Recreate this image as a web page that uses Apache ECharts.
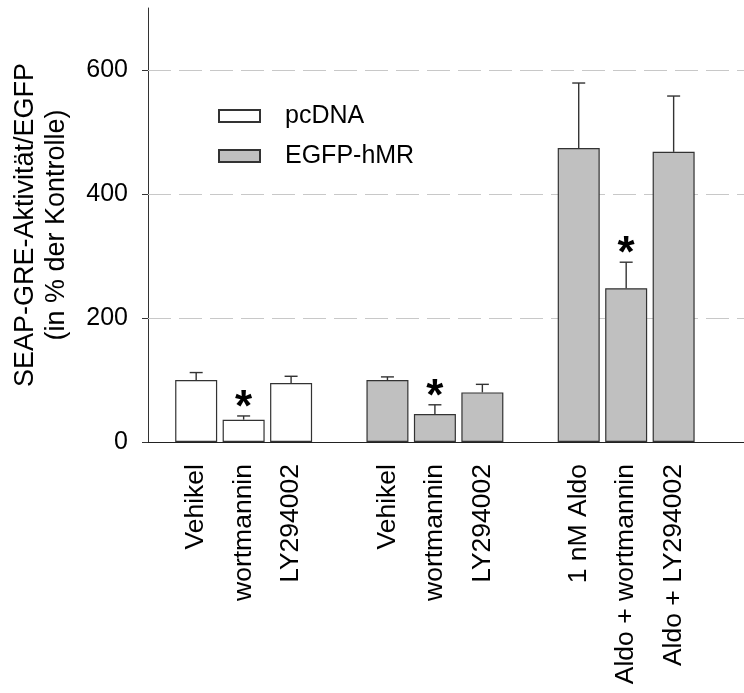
<!DOCTYPE html>
<html>
<head>
<meta charset="utf-8">
<script src="https://cdn.jsdelivr.net/npm/echarts@6/dist/echarts.min.js"></script>
<style>html,body{margin:0;padding:0;background:#fff;}#c{width:744px;height:693px;}</style>
</head>
<body>
<div id="c"></div>
<script>
// ---- data ----
const pcdnaLabels = ['Vehikel', 'wortmannin', 'LY294002'];
const pcdnaMeans  = [100, 36, 95];
const pcdnaSD     = [12, 6, 11];
const pcdnaSig    = [0, 1, 0];

const egfpLabels  = ['Vehikel', 'wortmannin', 'LY294002'];
const egfpMeans   = [100, 45, 80];
const egfpSD      = [5, 15, 13];
const egfpSig     = [0, 1, 0];

const aldoLabels  = ['1 nM Aldo', 'Aldo + wortmannin', 'Aldo + LY294002'];
const aldoMeans   = [474, 248, 468];
const aldoSD      = [105, 42, 90];
const aldoSig     = [0, 1, 0];

const legendNames = ['pcDNA', 'EGFP-hMR'];
const yTicks = [0, 200, 400, 600];
const yTitle = 'SEAP-GRE-Aktivität/EGFP\n(in % der Kontrolle)';

// ---- styles ----
const FONT = 'Liberation Sans, Arial, sans-serif';
const WHITE = '#ffffff', GRAY = '#c0c0c0', EDGE = '#333333';
const BAR_W = 42, BAR_GAP = 0.13;

const groups = [
  {labels: pcdnaLabels, means: pcdnaMeans, sd: pcdnaSD, sig: pcdnaSig, color: WHITE},
  {labels: egfpLabels, means: egfpMeans, sd: egfpSD, sig: egfpSig, color: GRAY},
  {labels: aldoLabels, means: aldoMeans, sd: aldoSD, sig: aldoSig, color: GRAY}
];

const series = [];
for (let p = 0; p < 3; p++) {
  series.push({
    type: 'bar',
    stack: 'pos' + p,
    barWidth: BAR_W,
    barGap: (BAR_GAP * 100) + '%',
    z: 2,
    data: groups.map((g, gi) => ({
      value: [gi + 1, g.means[p]],
      itemStyle: {color: g.color, borderColor: EDGE, borderWidth: 1.2}
    })),
    label: {
      show: true,
      position: 'bottom',
      distance: 22,
      rotate: 90,
      align: 'right',
      verticalAlign: 'middle',
      color: '#000',
      fontFamily: FONT,
      fontSize: 26.5,
      formatter: (pr) => groups[pr.dataIndex].labels[p]
    },
    silent: true
  });
}
// legend-only series
series.push({type: 'bar', name: legendNames[0], stack: 'pos0', data: [],
  itemStyle: {color: WHITE, borderColor: EDGE, borderWidth: 1.2}});
series.push({type: 'bar', name: legendNames[1], stack: 'pos1', data: [],
  itemStyle: {color: GRAY, borderColor: EDGE, borderWidth: 1.2}});

// error bars + significance stars
const errData = [];
groups.forEach((g, gi) => {
  for (let p = 0; p < 3; p++) errData.push([gi + 1, g.means[p] + g.sd[p], g.means[p], p, g.sig[p]]);
});
series.push({
  type: 'custom',
  z: 3,
  silent: true,
  encode: {x: 0, y: 1},
  data: errData,
  renderItem: function (params, api) {
    const x = api.value(0), top = api.value(1), mean = api.value(2), p = api.value(3), sig = api.value(4);
    const pitch = BAR_W * (1 + BAR_GAP);
    const b = api.coord([x, mean]);
    const t = api.coord([x, top]);
    const cx = b[0] + (p - 1) * pitch;
    const ls = {stroke: EDGE, lineWidth: 1.4};
    const children = [
      {type: 'line', shape: {x1: cx, y1: b[1], x2: cx, y2: t[1]}, style: ls},
      {type: 'line', shape: {x1: cx - 6.5, y1: t[1], x2: cx + 6.5, y2: t[1]}, style: ls}
    ];
    if (sig) {
      children.push({type: 'text', style: {text: '*', x: cx, y: t[1] - 7, align: 'center',
        verticalAlign: 'middle', font: 'bold 44px ' + FONT, fill: '#000'}});
    }
    return {type: 'group', children: children};
  },
  markLine: {
    silent: true,
    z: 1,
    symbol: 'none',
    label: {show: false},
    lineStyle: {type: [23, 8], color: '#c8c8c8', width: 1},
    data: yTicks.filter(v => v > 0).map(v => ({yAxis: v}))
  }
});

const chart = echarts.init(document.getElementById('c'), null, {renderer: 'canvas'});
chart.setOption({
  backgroundColor: '#fff',
  animation: false,
  grid: {left: 148, right: 0, top: 8, bottom: 251, containLabel: false},
  legend: {
    orient: 'vertical',
    left: 213,
    top: 98,
    padding: 5,
    icon: 'rect',
    itemWidth: 41,
    itemHeight: 12,
    itemGap: 14,
    data: legendNames,
    selectedMode: false,
    textStyle: {fontFamily: FONT, fontSize: 25, color: '#000', lineHeight: 26, padding: [0, 0, 0, 20]}
  },
  xAxis: {
    type: 'value',
    min: 0.5,
    max: 3.616,
    axisLine: {show: true, onZero: false, lineStyle: {color: '#222', width: 1}},
    axisTick: {show: false},
    axisLabel: {show: false},
    splitLine: {show: false}
  },
  yAxis: {
    type: 'value',
    min: 0,
    max: 700,
    interval: 100,
    name: yTitle,
    nameLocation: 'middle',
    nameGap: 76,
    nameTextStyle: {fontFamily: FONT, fontSize: 27, color: '#000', lineHeight: 31, align: 'center'},
    axisLine: {show: true, onZero: false, lineStyle: {color: '#333', width: 1}},
    axisTick: {show: true, length: 6, customValues: yTicks, lineStyle: {color: '#333'}},
    axisLabel: {fontFamily: FONT, fontSize: 25, color: '#000', margin: 20, customValues: yTicks},
    splitLine: {show: false}
  },
  series: series
});
</script>
</body>
</html>
